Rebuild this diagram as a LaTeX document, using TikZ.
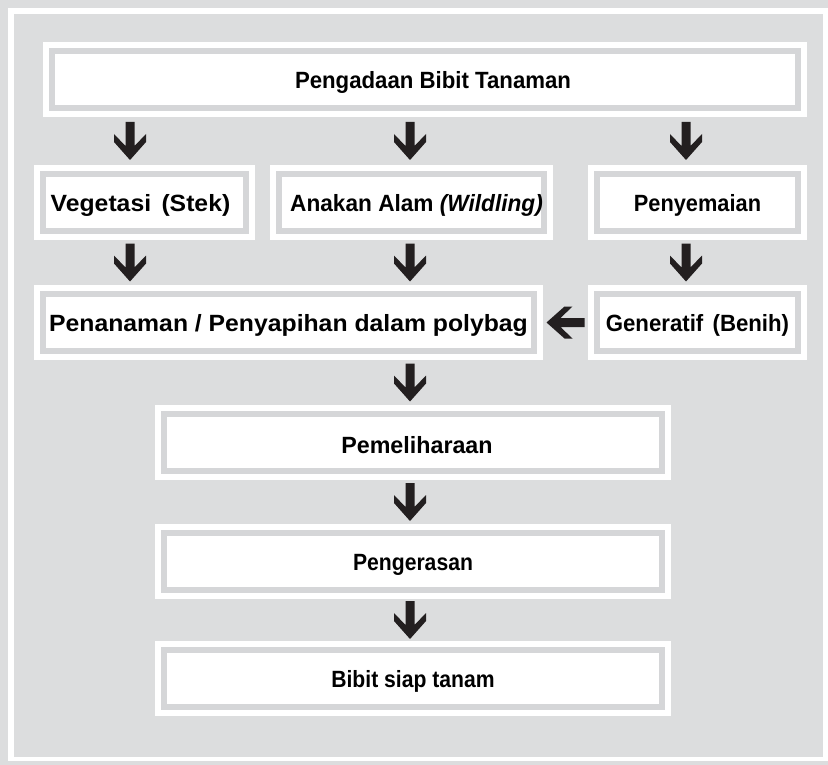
\documentclass[tikz,border=0pt]{standalone}
\usepackage{fontspec}
\usepackage{graphicx}
\setmainfont{Liberation Sans}[FakeStretch=0.9]
\usetikzlibrary{calc}
\definecolor{bgc}{RGB}{220,221,222}
\definecolor{bandc}{RGB}{213,214,216}
\definecolor{arrc}{RGB}{35,31,32}
\newcommand{\hstretch}[2]{\raisebox{-3pt}[\height][\depth]{\scalebox{#1}[1]{#2}}}
\tikzset{
  box/.style={fill=white, draw=bandc, line width=6pt,
    preaction={draw=white, fill=white, line width=18pt},
    inner sep=0pt, minimum height=57pt, align=center,
    font=\fontsize{23.5}{26}\selectfont\bfseries},
  darr/.pic={\fill[arrc] (-4.5,-19) -- (-4.5,5) -- (-16,-7) -- (-16,1) -- (0,19)
     -- (16,1) -- (16,-7) -- (4.5,5) -- (4.5,-19) -- cycle;},
  larr/.pic={\fill[arrc] (19,-4.5) -- (-5,-4.5) -- (7,-16) -- (-1,-16) -- (-19,0)
     -- (-1,16) -- (7,16) -- (-5,4.5) -- (19,4.5) -- cycle;}
}
\begin{document}
\begin{tikzpicture}[x=1pt,y=-1pt]
\fill[bgc] (0,0) rectangle (828,765);
\fill[white] (8,8) rectangle (828,761);
\fill[bgc] (14,14) rectangle (823,757);
\useasboundingbox (0,0) rectangle (828,765);

\coordinate (c1) at (130,0);
\coordinate (c2) at (410,0);
\coordinate (c3) at (686,0);

\node[box, minimum width=746pt] (top) at (425,79.5) {\hspace*{16pt}\hstretch{1.05}{Pengadaan Bibit Tanaman}};
\node[box, minimum width=203pt] (veg) at (144.5,202.5) {\hspace*{-8pt}\hstretch{1.17}{Vegetasi\hspace{3pt} (Stek)}};
\node[box, minimum width=265pt] (anak) at (411.5,202.5) {\hspace*{10pt}\hstretch{1.07}{Anakan Alam \textit{(Wildling)}}};
\node[box, minimum width=201pt] (peny) at (697.5,202.5) {\hstretch{1.03}{Penyemaian}};
\node[box, minimum width=491pt] (pena) at (288.5,322.5) {\hstretch{1.17}{Penanaman / Penyapihan dalam polybag}};
\node[box, minimum width=201pt] (gen) at (697.5,322.5) {\hstretch{1.05}{Generatif\hspace{3pt} (Benih)}};
\node[box, minimum width=498pt] (peme) at (413,442.5) {\hspace*{8pt}\hstretch{1.1}{Pemeliharaan}};
\node[box, minimum width=498pt] (peng) at (413,561.5) {\hstretch{1}{Pengerasan}};
\node[box, minimum width=498pt] (bibit) at (413,678.5) {\hstretch{1}{Bibit siap tanam}};

\pic at ($(top.south -| c1)!0.5!(veg.north -| c1)$) {darr};
\pic at ($(top.south -| c2)!0.5!(anak.north -| c2)$) {darr};
\pic at ($(top.south -| c3)!0.5!(peny.north -| c3)$) {darr};
\pic at ($(veg.south -| c1)!0.5!(pena.north -| c1)$) {darr};
\pic at ($(anak.south -| c2)!0.5!(pena.north -| c2)$) {darr};
\pic at ($(peny.south -| c3)!0.5!(gen.north -| c3)$) {darr};
\pic at ($(gen.west)!0.5!(pena.east)$) {larr};
\pic at ($(pena.south -| c2)!0.5!(peme.north -| c2)$) {darr};
\pic at ($(peme.south -| c2)!0.5!(peng.north -| c2)$) {darr};
\pic at ($(peng.south -| c2)!0.5!(bibit.north -| c2)$) {darr};
\end{tikzpicture}
\end{document}
